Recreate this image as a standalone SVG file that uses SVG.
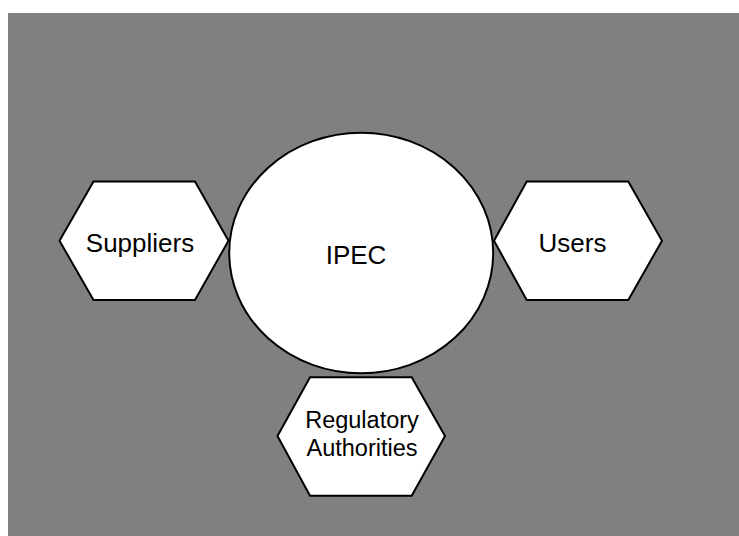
<svg xmlns="http://www.w3.org/2000/svg" width="739" height="536" viewBox="0 0 739 536">
  <style>
    .shape { fill: #ffffff; stroke: #000000; stroke-width: 2; stroke-linejoin: miter; }
    .label { font-family: "Liberation Sans", Arial, sans-serif; fill: #000000; text-anchor: middle; }
    .big { font-size: 26px; }
    .small { font-size: 23.5px; }
  </style>
  <rect x="0" y="0" width="739" height="536" fill="#ffffff"/>
  <rect x="8" y="13" width="731" height="523" fill="#808080"/>
  <g id="connectors"></g>
  <g id="suppliers">
    <polygon class="shape" points="59.5,240.7 93.5,181.5 195,181.5 228.5,240.7 195,300 93.5,300"/>
    <text class="label big" x="140" y="251.5">Suppliers</text>
  </g>
  <g id="users">
    <polygon class="shape" points="494,240.7 526.7,181.5 628.3,181.5 662,240.7 628.3,300 526.7,300"/>
    <text class="label big" x="572.5" y="251.5">Users</text>
  </g>
  <g id="ipec">
    <ellipse class="shape" cx="361.2" cy="253" rx="132" ry="120.3"/>
    <text class="label big" x="356" y="264">IPEC</text>
  </g>
  <g id="regulatory-authorities">
    <polygon class="shape" points="277.5,436 310,377.2 411.7,377.2 445,436 411.7,495.7 310,495.7"/>
    <text class="label small" x="362" y="428.3">Regulatory</text>
    <text class="label small" x="362" y="455.7">Authorities</text>
  </g>
</svg>
